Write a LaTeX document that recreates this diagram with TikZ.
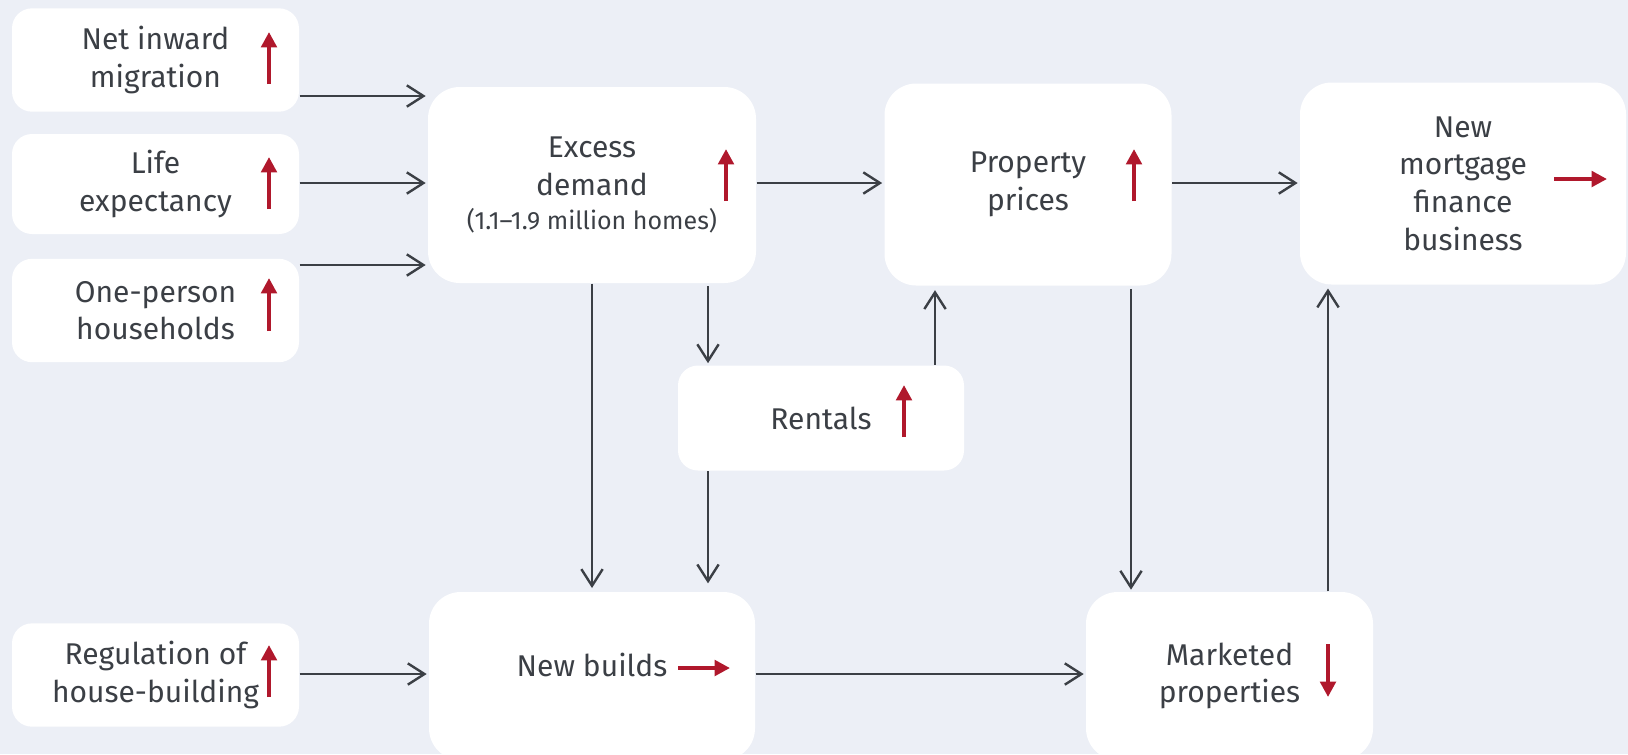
\documentclass[tikz,border=0pt]{standalone}
\usepackage{fontspec}
\setmainfont{Fira Sans}
\usetikzlibrary{arrows.meta}

\definecolor{pagebg}{HTML}{ECEFF6}
\definecolor{inkgrey}{HTML}{3B3F45}
\definecolor{trendred}{HTML}{B0182C}

\begin{document}
\begin{tikzpicture}[x=0.3pt, y=-0.3pt,
    box/.style={fill=white, rounded corners=9.5pt, align=center, text=inkgrey,
      font=\fontsize{9}{11.3}\selectfont, inner sep=0pt},
    small/.style={box, rounded corners=6pt, minimum width=86.1pt, minimum height=31pt},
    flow/.style={draw=inkgrey, line width=0.72pt,
      -{Straight Barb[length=5pt, width=6.4pt]}, shorten >=0.5pt},
    trend/.style={draw=trendred, line width=1.3pt,
      -{Triangle[length=4.6pt, width=4.6pt]}}]
  % Background
  \useasboundingbox (0,0) rectangle (1628,754);
  \fill[pagebg] (0,0) rectangle (1628,754);

  % Demand side
  \node[small] (net) at (155.5,60) {Net inward\\migration};
  \node[small, minimum height=30pt] (life) at (155.5,184) {Life\\expectancy};
  \node[small] (one) at (155.5,310.5) {One-person\\households};
  \node[small] (reg) at (155.5,675) {Regulation of\\house-building};

  % Main boxes
  \node[box, minimum width=98.4pt, minimum height=58.8pt] (excess) at (592,185)
    {Excess\\demand\\[-1pt]{\fontsize{7.5}{9}\selectfont(1.1--1.9 million homes)}};
  \node[box, minimum width=86.1pt, minimum height=60.6pt] (prop) at (1028,184.5) {Property\\prices};
  \node[box, minimum width=97.8pt, minimum height=60.6pt] (mortgage) at (1463,183.5)
    {New\\mortgage\\finance\\business};
  \node[small, minimum width=85.8pt, minimum height=31.5pt] (rentals) at (821,418) {Rentals};
  \node[box, minimum width=97.8pt, text height=25.2pt, text depth=25.2pt] (newb) at (592,676) {New builds};
  \node[box, minimum width=86.1pt, minimum height=50.4pt] (market) at (1229.5,676) {Marketed\\properties};

  % Trend arrows
  \draw[trend] (269,84) -- (269,32);
  \draw[trend] (269,209) -- (269,157);
  \draw[trend] (269,331) -- (269,278);
  \draw[trend] (269,697) -- (269,645);
  \draw[trend] (726,201) -- (726,149);
  \draw[trend] (1134,201) -- (1134,149);
  \draw[trend] (904,437) -- (904,385);
  \draw[trend] (1328,644) -- (1328,697);
  \draw[trend] (678,668) -- (730,668);
  \draw[trend] (1554,179) -- (1607,179);

  % Into excess demand
  \draw[flow] (net.east |- 0,96) -- (excess.west |- 0,96);
  \draw[flow] (life.east |- 0,183) -- (excess.west |- 0,183);
  \draw[flow] (one.east |- 0,265) -- (excess.west |- 0,265);

  % Top row
  \draw[flow] (excess.east |- 0,183) -- (prop.west |- 0,183);
  \draw[flow] (prop.east |- 0,183) -- (mortgage.west |- 0,183);

  % Down and up links
  \draw[flow, shorten >=1pt] (excess.south) -- (newb.north);
  \draw[flow, shorten <=0.8pt] (excess.south -| 708,0) -- (rentals.north -| 708,0);
  \draw[flow, shorten >=2.4pt] (rentals.south -| 708,0) -- (newb.north -| 708,0);
  \draw[flow, shorten >=1.2pt] (rentals.north -| 935,0) -- (prop.south -| 935,0);
  \draw[flow, shorten <=0.8pt] (prop.south -| 1131,0) -- (market.north -| 1131,0);
  \draw[flow, shorten >=1pt] (market.north -| 1328,0) -- (mortgage.south -| 1328,0);

  % Bottom row
  \draw[flow] (reg.east |- 0,674) -- (newb.west |- 0,674);
  \draw[flow] (newb.east |- 0,674) -- (market.west |- 0,674);
\end{tikzpicture}
\end{document}
